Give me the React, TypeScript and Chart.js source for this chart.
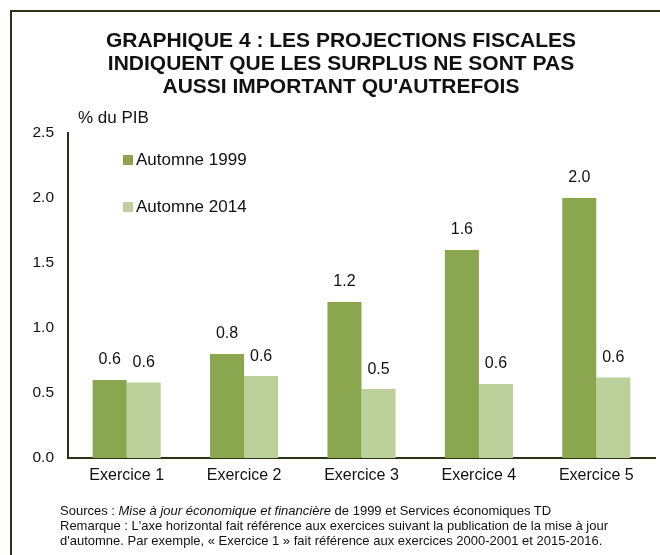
import React, { useEffect, useRef } from "react";
import { Chart, registerables } from "chart.js";

Chart.register(...registerables);

const categories = ["Exercice 1", "Exercice 2", "Exercice 3", "Exercice 4", "Exercice 5"];
const seriesNames = ["Automne 1999", "Automne 2014"];
const automne1999 = [0.6, 0.8, 1.2, 1.6, 2.0];
const automne2014 = [0.58, 0.63, 0.53, 0.57, 0.62];
const seriesColors = ["#8AA64F", "#BBD09A"];
const yMin = 0;
const yMax = 2.5;
const yStep = 0.5;

const titleLines = [
  "GRAPHIQUE 4 : LES PROJECTIONS FISCALES",
  "INDIQUENT QUE LES SURPLUS NE SONT PAS",
  "AUSSI IMPORTANT QU'AUTREFOIS",
];
const yAxisTitle = "% du PIB";

const FONT = "'Liberation Sans', Arial, sans-serif";
const AXIS_COLOR = "#2B3314";

const valueLabels = {
  id: "valueLabels",
  afterDatasetsDraw(chart: any) {
    const ctx = chart.ctx;
    ctx.save();
    ctx.font = `16px ${FONT}`;
    ctx.fillStyle = "#111";
    ctx.textAlign = "center";
    ctx.textBaseline = "middle";
    chart.data.datasets.forEach((ds: any, i: number) => {
      const meta = chart.getDatasetMeta(i);
      meta.data.forEach((bar: any, j: number) => {
        ctx.fillText(Number(ds.data[j]).toFixed(1), bar.x, bar.y - 20);
      });
    });
    ctx.restore();
  },
};

export default function App() {
  const canvasRef = useRef<HTMLCanvasElement | null>(null);

  useEffect(() => {
    if (!canvasRef.current) return;
    const chart = new Chart(canvasRef.current, {
      type: "bar",
      data: {
        labels: categories,
        datasets: [
          { label: seriesNames[0], data: automne1999, backgroundColor: seriesColors[0] },
          { label: seriesNames[1], data: automne2014, backgroundColor: seriesColors[1] },
        ],
      },
      options: {
        responsive: false,
        animation: false,
        devicePixelRatio: 1,
        layout: { padding: { left: 0, right: 5, top: 133, bottom: 67 } },
        datasets: { bar: { categoryPercentage: 0.58, barPercentage: 1.0 } },
        plugins: {
          legend: { display: false },
          title: { display: false },
          tooltip: { enabled: false },
        },
        scales: {
          x: {
            grid: { display: false, drawTicks: false },
            border: { display: true, color: AXIS_COLOR, width: 2 },
            ticks: { color: "#111", font: { family: FONT, size: 16 }, padding: 8 },
            afterFit: (s: any) => { s.height = 30; },
          },
          y: {
            min: yMin,
            max: yMax,
            grid: { display: false, drawTicks: false },
            border: { display: true, color: AXIS_COLOR, width: 2 },
            ticks: {
              stepSize: yStep,
              color: "#111",
              font: { family: FONT, size: 15.5 },
              padding: 14,
              callback: (v: any) => Number(v).toFixed(1),
            },
            afterFit: (s: any) => { s.width = 68; },
          },
        },
      },
      plugins: [valueLabels],
    });
    return () => chart.destroy();
  }, []);

  return (
    <div style={{ position: "absolute", left: 0, top: 0, width: 660, height: 555, overflow: "hidden", background: "#fff", fontFamily: FONT, color: "#111" }}>
      <div style={{ position: "absolute", left: 10, top: 10, width: 700, height: 600, border: `2px solid ${AXIS_COLOR}` }} />
      <canvas ref={canvasRef} width={660} height={555} style={{ position: "absolute", left: 0, top: 0 }} />
      <div style={{ position: "absolute", left: 0, width: 682, top: 28, textAlign: "center", fontWeight: "bold", fontSize: 21, lineHeight: "23px" }}>
        {titleLines.map((t, i) => <div key={i}>{t}</div>)}
      </div>
      <div style={{ position: "absolute", left: 78, top: 108, fontSize: 17, lineHeight: "20px" }}>{yAxisTitle}</div>
      {seriesNames.map((n, i) => (
        <div key={n} style={{ position: "absolute", left: 123, top: 150 + i * 47, fontSize: 17, lineHeight: "20px", display: "flex", alignItems: "center" }}>
          <span style={{ display: "inline-block", width: 10, height: 10, background: seriesColors[i], marginRight: 3 }} />
          <span>{n}</span>
        </div>
      ))}
      <div style={{ position: "absolute", left: 60, top: 503, fontSize: 13, lineHeight: "15px" }}>
        <div>Sources : <i>Mise à jour économique et financière</i> de 1999 et Services économiques TD</div>
        <div>Remarque : L'axe horizontal fait référence aux exercices suivant la publication de la mise à jour</div>
        <div>d'automne. Par exemple, « Exercice 1 » fait référence aux exercices 2000-2001 et 2015-2016.</div>
      </div>
    </div>
  );
}
